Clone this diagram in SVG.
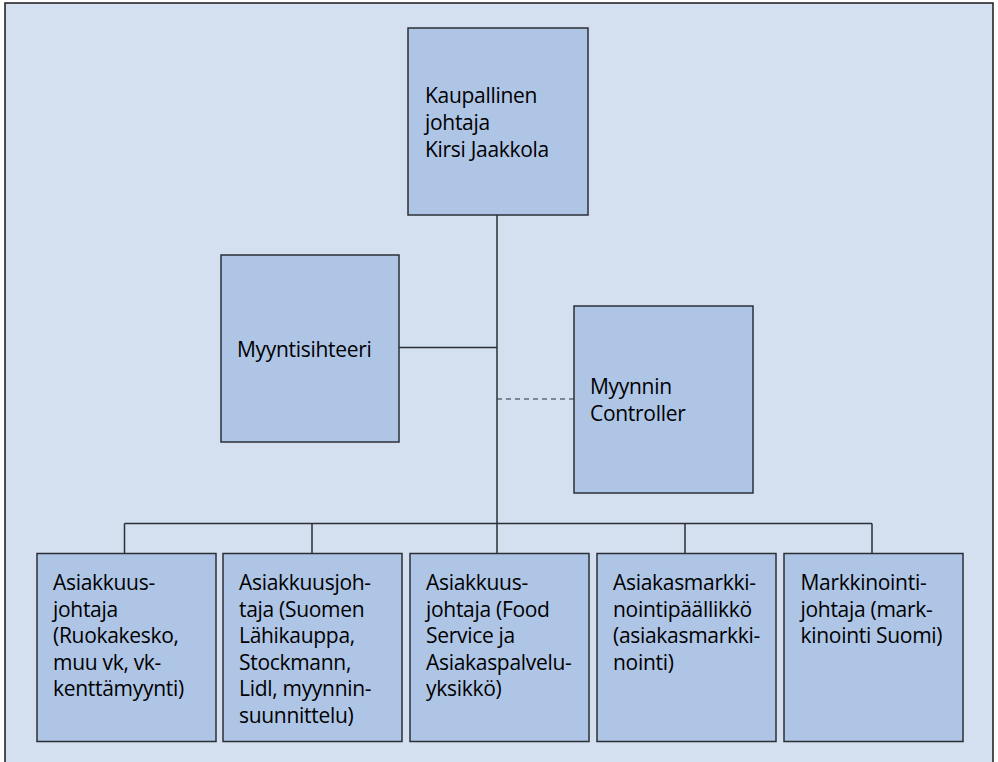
<svg xmlns="http://www.w3.org/2000/svg" width="998" height="762" viewBox="0 0 998 762">
  <style>
    .frame { fill: #D4DFF0; stroke: #1a1a1a; stroke-width: 1.5; }
    .box { fill: #AFC5E6; stroke: #2b2f36; stroke-width: 1.5; }
    .line { fill: none; stroke: #2b2f36; stroke-width: 1.5; }
    .dash { fill: none; stroke: #2b2f36; stroke-width: 1.2; stroke-dasharray: 5 4; }
    text { font-family: "Open Sans", "Noto Sans", "Liberation Sans", sans-serif; font-size: 21px; letter-spacing: -0.3px; fill: #000; }
  </style>

  <rect class="frame" x="5" y="3" width="988" height="770"/>

  <g id="connectors">
    <!-- main trunk -->
    <line class="line" x1="497" y1="215" x2="497" y2="523.5"/>
    <!-- staff links -->
    <line class="line" x1="399" y1="347.5" x2="497" y2="347.5"/>
    <line class="dash" x1="497" y1="399" x2="574" y2="399"/>
    <!-- bus to line managers -->
    <line class="line" x1="124.5" y1="523.5" x2="872" y2="523.5"/>
    <line class="line" x1="124.5" y1="523.5" x2="124.5" y2="553.5"/>
    <line class="line" x1="312" y1="523.5" x2="312" y2="553.5"/>
    <line class="line" x1="497" y1="523.5" x2="497" y2="553.5"/>
    <line class="line" x1="685" y1="523.5" x2="685" y2="553.5"/>
    <line class="line" x1="872" y1="523.5" x2="872" y2="553.5"/>
  </g>

  <g id="kaupallinen-johtaja">
    <rect class="box" x="408" y="28" width="180" height="187"/>
    <text x="425" y="103">Kaupallinen</text>
    <text x="425" y="130">johtaja</text>
    <text x="425" y="157">Kirsi Jaakkola</text>
  </g>

  <g id="myyntisihteeri">
    <rect class="box" x="221" y="255" width="178" height="187"/>
    <text x="237" y="357">Myyntisihteeri</text>
  </g>

  <g id="myynnin-controller">
    <rect class="box" x="574" y="306" width="179" height="187"/>
    <text x="590" y="394">Myynnin</text>
    <text x="590" y="421">Controller</text>
  </g>

  <g id="asiakkuusjohtaja-ruokakesko">
    <rect class="box" x="37" y="553.5" width="179" height="188"/>
    <text x="53" y="590">Asiakkuus-</text>
    <text x="53" y="616.6">johtaja</text>
    <text x="53" y="643.2">(Ruokakesko,</text>
    <text x="53" y="669.8">muu vk, vk-</text>
    <text x="53" y="696.4">kenttämyynti)</text>
  </g>

  <g id="asiakkuusjohtaja-suomen-lahikauppa">
    <rect class="box" x="223" y="553.5" width="179" height="188"/>
    <text x="239" y="590">Asiakkuusjoh-</text>
    <text x="239" y="616.6">taja (Suomen</text>
    <text x="239" y="643.2">Lähikauppa,</text>
    <text x="239" y="669.8">Stockmann,</text>
    <text x="239" y="696.4">Lidl, myynnin-</text>
    <text x="239" y="723">suunnittelu)</text>
  </g>

  <g id="asiakkuusjohtaja-food-service">
    <rect class="box" x="410" y="553.5" width="179" height="188"/>
    <text x="426" y="590">Asiakkuus-</text>
    <text x="426" y="616.6">johtaja (Food</text>
    <text x="426" y="643.2">Service ja</text>
    <text x="426" y="669.8">Asiakaspalvelu-</text>
    <text x="426" y="696.4">yksikkö)</text>
  </g>

  <g id="asiakasmarkkinointipaallikko">
    <rect class="box" x="597" y="553.5" width="179" height="188"/>
    <text x="613" y="590">Asiakasmarkki-</text>
    <text x="613" y="616.6">nointipäällikkö</text>
    <text x="613" y="643.2">(asiakasmarkki-</text>
    <text x="613" y="669.8">nointi)</text>
  </g>

  <g id="markkinointijohtaja">
    <rect class="box" x="784" y="553.5" width="179" height="188"/>
    <text x="800.5" y="590">Markkinointi-</text>
    <text x="800.5" y="616.6">johtaja (mark-</text>
    <text x="800.5" y="643.2">kinointi Suomi)</text>
  </g>
</svg>
